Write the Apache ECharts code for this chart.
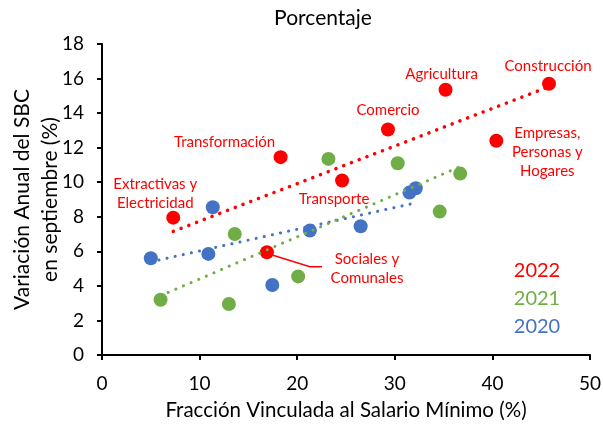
<!DOCTYPE html>
<html>
<head>
<meta charset="utf-8">
<script src="https://cdn.jsdelivr.net/npm/echarts@6/dist/echarts.min.js"></script>
<style>
  html, body { margin: 0; padding: 0; background: #fff; }
  #chart { width: 603px; height: 427px; }
</style>
</head>
<body>
<div id="chart"></div>
<script>
// sectores 2022 (con etiqueta)
const sectors2022 = ['Extractivas y\nElectricidad', 'Transformación', 'Transporte', 'Comercio',
  'Agricultura', 'Construcción', 'Empresas,\nPersonas y\nHogares', 'Sociales y\nComunales']
const frac2022 = [7.3, 18.3, 24.6, 29.3, 35.2, 45.8, 40.4, 16.9]
const var2022 = [7.95, 11.45, 10.1, 13.05, 15.35, 15.7, 12.4, 5.95]

const frac2021 = [6.0, 13.0, 13.6, 20.1, 23.2, 30.3, 36.7, 34.6]
const var2021 = [3.2, 2.95, 7.0, 4.55, 11.35, 11.1, 10.5, 8.3]

const frac2020 = [5.0, 10.9, 11.35, 17.45, 21.3, 26.5, 31.5, 32.15]
const var2020 = [5.6, 5.85, 8.55, 4.05, 7.2, 7.45, 9.4, 9.65]

const years = ['2022', '2021', '2020']
const colors = { '2022': '#FF0000', '2021': '#70AD47', '2020': '#4472C4' }

// desplazamiento de cada etiqueta respecto al punto (px)
const labelOffset = {
  'Extractivas y\nElectricidad': [-18, -24],
  'Transformación': [-56, -15],
  'Transporte': [-8, 19],
  'Comercio': [0, -19],
  'Agricultura': [-4, -16],
  'Construcción': [-1, -18],
  'Empresas,\nPersonas y\nHogares': [51, 11],
  'Sociales y\nComunales': [100, 16]
}

const FONT = 'Lato'

// recta de tendencia (minimos cuadrados), de min x a max x
function trend(xs, ys) {
  const n = xs.length
  const mx = xs.reduce((a, b) => a + b, 0) / n
  const my = ys.reduce((a, b) => a + b, 0) / n
  let sxy = 0, sxx = 0
  for (let i = 0; i < n; i++) {
    sxy += (xs[i] - mx) * (ys[i] - my)
    sxx += (xs[i] - mx) * (xs[i] - mx)
  }
  const b = sxy / sxx
  const a = my - b * mx
  const x0 = Math.min(...xs), x1 = Math.max(...xs)
  return [[x0, a + b * x0], [x1, a + b * x1]]
}

const pts = (xs, ys) => xs.map((x, i) => [x, ys[i]])

const data2022 = frac2022.map((x, i) => ({
  value: [x, var2022[i]],
  name: sectors2022[i],
  label: { offset: labelOffset[sectors2022[i]] }
}))

function scatter(name, data) {
  return {
    name: name,
    type: 'scatter',
    symbolSize: 14,
    itemStyle: { color: colors[name], opacity: 1 },
    data: data,
    z: 2
  }
}

function trendLine(name, xs, ys, width) {
  return {
    name: name + ' tendencia',
    type: 'line',
    data: trend(xs, ys),
    symbol: 'none',
    silent: true,
    lineStyle: { color: colors[name], width: width, type: [0.1, 8.2], cap: 'round' },
    z: 3
  }
}

const chart = echarts.init(document.getElementById('chart'))

const s2022 = scatter('2022', data2022)
s2022.label = {
  show: true,
  position: 'inside',
  formatter: p => p.name,
  color: '#FF0000',
  fontFamily: FONT,
  fontSize: 15,
  lineHeight: 19,
  align: 'center',
  verticalAlign: 'middle'
}

const option = {
  animation: false,
  title: {
    text: 'Porcentaje',
    left: 318,
    top: 3,
    textAlign: 'center',
    textStyle: { fontFamily: FONT, fontSize: 21, fontWeight: 'normal', color: '#000' }
  },
  grid: { left: 102, right: 13, top: 44, bottom: 72, outerBoundsMode: 'none' },
  xAxis: {
    type: 'value',
    min: 0, max: 50, interval: 10,
    name: 'Fracción Vinculada al Salario Mínimo (%)',
    nameLocation: 'middle',
    nameGap: 45,
    nameMoveOverlap: false,
    nameTextStyle: { fontFamily: FONT, fontSize: 20.5, color: '#000' },
    axisLine: { show: true, lineStyle: { color: '#000', width: 2 } },
    axisTick: { show: true, length: 5, lineStyle: { color: '#000', width: 2 } },
    axisLabel: { fontFamily: FONT, fontSize: 19, color: '#000', margin: 19 },
    splitLine: { show: false }
  },
  yAxis: {
    type: 'value',
    min: 0, max: 18, interval: 2,
    name: 'Variación Anual del SBC\nen septiembre (%)',
    nameLocation: 'middle',
    nameGap: 38,
    nameRotate: 90,
    nameMoveOverlap: false,
    nameTextStyle: { fontFamily: FONT, fontSize: 21, color: '#000', lineHeight: 28 },
    axisLine: { show: true, lineStyle: { color: '#000', width: 2 } },
    axisTick: { show: true, length: 5, lineStyle: { color: '#000', width: 2 } },
    axisLabel: { fontFamily: FONT, fontSize: 19, color: '#000', margin: 18 },
    splitLine: { show: false }
  },
  series: [
    scatter('2020', pts(frac2020, var2020)),
    scatter('2021', pts(frac2021, var2021)),
    s2022,
    trendLine('2020', frac2020, var2020, 3),
    trendLine('2021', frac2021, var2021, 3),
    trendLine('2022', frac2022, var2022, 3.5)
  ],
  graphic: years.map((y, i) => ({
    type: 'text',
    x: 537,
    y: 271 + i * 28,
    style: {
      text: y,
      fill: colors[y],
      font: '20px ' + FONT,
      align: 'center',
      verticalAlign: 'middle'
    }
  }))
}

chart.setOption(option)

// linea guia de "Sociales y Comunales"
const k = sectors2022.indexOf('Sociales y\nComunales')
const p = chart.convertToPixel({ gridIndex: 0 }, [frac2022[k], var2022[k]])
chart.setOption({
  graphic: option.graphic.concat([{
    type: 'polyline',
    shape: { points: [[p[0] + 6, p[1] + 3], [p[0] + 43, p[1] + 14.5], [p[0] + 55, p[1] + 14.5]] },
    style: { stroke: '#FF0000', lineWidth: 1.5, fill: null },
    z: 10
  }])
})
</script>
</body>
</html>
